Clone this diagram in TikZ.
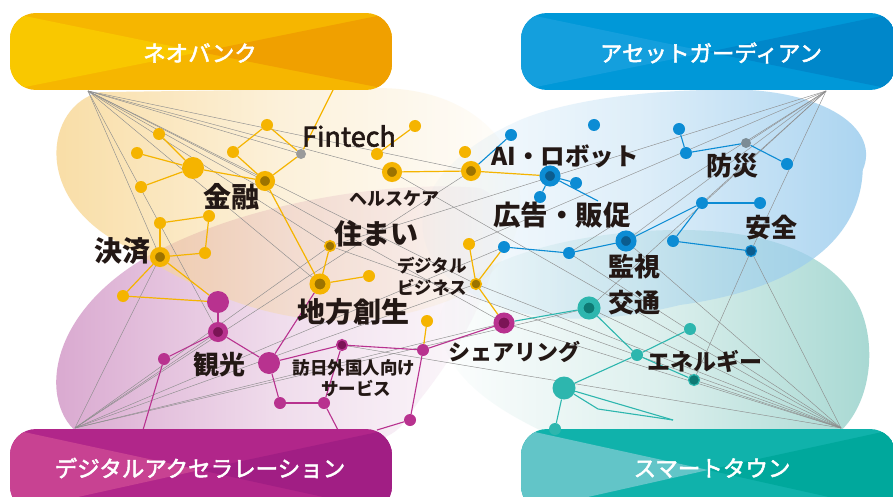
\documentclass[tikz,border=0pt]{standalone}
\usepackage{fontspec}
\newfontfamily\jp{Noto Sans CJK JP}
\newfontfamily\jpm[FakeBold=2.2]{Noto Sans CJK JP}
\usetikzlibrary{fadings}
\definecolor{Y}{HTML}{F5B400}
\definecolor{Yd}{HTML}{9C7300}
\definecolor{M}{HTML}{B8328F}
\definecolor{Md}{HTML}{7B1456}
\definecolor{B}{HTML}{0C8CD4}
\definecolor{Bd}{HTML}{0B5C8E}
\definecolor{T}{HTML}{2DB6AE}
\definecolor{Td}{HTML}{0E7A74}
\definecolor{Gn}{HTML}{9A9A9A}
\definecolor{Gb}{HTML}{7C8C96}
\definecolor{Gl}{HTML}{8E8E8E}
\definecolor{Tx}{HTML}{231815}
\definecolor{Yb}{HTML}{F8D794}
\definecolor{Pb}{HTML}{D8A5CE}
\definecolor{Bb}{HTML}{9CCDEE}
\definecolor{Tb}{HTML}{A6D8D2}
\definecolor{YL}{HTML}{F9C800}
\definecolor{YM}{HTML}{F6B600}
\definecolor{YR}{HTML}{F0A000}
\definecolor{BL}{HTML}{149FDD}
\definecolor{BM}{HTML}{0098D8}
\definecolor{BR}{HTML}{0087CA}
\definecolor{ML}{HTML}{C84292}
\definecolor{MM}{HTML}{B1268A}
\definecolor{MR}{HTML}{A11E84}
\definecolor{TL}{HTML}{62C5C8}
\definecolor{TM}{HTML}{10B2AB}
\definecolor{TR}{HTML}{00A89C}
\pgfdeclarelayer{blobs}
\pgfdeclarelayer{lines}
\pgfsetlayers{blobs,lines,main}
\tikzfading[name=fadeL, left color=transparent!0, right color=transparent!100, middle color=transparent!62]
\tikzfading[name=fadeR, left color=transparent!100, right color=transparent!0, middle color=transparent!62]
\newcommand\mybox[8]{%
  \begin{scope}
    \clip[rounded corners=26pt] (#1,#2) rectangle (#3,#4);
    \fill[#7] (#1,#2) rectangle (#3,#4);
    \fill[#6] (#1,#2) -- (#5) -- (#1,#4) -- cycle;
    \fill[#8] (#3,#2) -- (#5) -- (#3,#4) -- cycle;
  \end{scope}}
\tikzset{
  nd/.style={circle, inner sep=0pt, minimum size=12pt},
  ys/.style={nd, fill=Y},
  ybig/.style={nd, fill=Y, minimum size=22pt},
  yh/.style={nd, fill=Yd, draw=Y, line width=5pt, minimum size=15pt},
  ydk/.style={nd, fill=Yd, draw=Y, line width=1.6pt, minimum size=10.5pt},
  ms/.style={nd, fill=M},
  mbig/.style={nd, fill=M, minimum size=22pt},
  mh/.style={nd, fill=Md, draw=M, line width=5pt, minimum size=15pt},
  mdk/.style={nd, fill=Md, draw=M, line width=1.6pt, minimum size=10.5pt},
  bs/.style={nd, fill=B},
  bh/.style={nd, fill=Bd, draw=B, line width=5.5pt, minimum size=15.5pt},
  bdk/.style={nd, fill=Bd, draw=B, line width=1.2pt, minimum size=11pt},
  ts/.style={nd, fill=T},
  tbig/.style={nd, fill=T, minimum size=23pt},
  th/.style={nd, fill=Td, draw=T, line width=6pt, minimum size=17pt},
  tdk/.style={nd, fill=Td, draw=T, line width=1.2pt, minimum size=11pt},
  gn/.style={nd, fill=Gn, minimum size=10pt},
  gl/.style={draw=Gl, line width=0.45pt},
  yl/.style={draw=Y, line width=1.2pt},
  ml/.style={draw=M, line width=1.1pt},
  bl/.style={draw=B, line width=1.1pt},
  tl/.style={draw=T, line width=1.1pt},
  lab/.style={inner sep=0pt, text=Tx},
  boxtxt/.style={inner sep=0pt, text=white, font=\jpm\fontsize{22.5}{22.5}\selectfont},
}
\begin{document}
\begin{tikzpicture}[x=1pt,y=-1pt]
\useasboundingbox (0,0) rectangle (893,497);

\begin{pgfonlayer}{blobs}
  \fill[white] (0,0) rectangle (893,497);
  % pink
  \fill[Pb, path fading=fadeL] (90,440) .. controls (40,420) and (35,320) .. (150,255)
     .. controls (250,200) and (400,180) .. (480,188)
     .. controls (520,200) and (500,300) .. (420,400)
     .. controls (400,430) .. (380,440) -- cycle;
  % yellow
  \fill[Yb, opacity=0.88, path fading=fadeL] (100,92) .. controls (45,105) and (30,200) .. (127,247)
     .. controls (210,300) and (320,350) .. (450,300)
     .. controls (520,270) and (540,200) .. (500,140)
     .. controls (470,100) and (420,88) .. (380,88) -- cycle;
  % teal
  \fill[Tb, path fading=fadeR] (840,432) .. controls (875,400) and (880,330) .. (850,290)
     .. controls (820,250) and (760,230) .. (680,230)
     .. controls (560,230) and (430,270) .. (440,330)
     .. controls (450,390) and (520,420) .. (560,440) -- cycle;
  % blue
  \fill[Bb, opacity=0.88, path fading=fadeR] (750,90) .. controls (830,95) and (880,130) .. (863,170)
     .. controls (860,245) and (790,290) .. (680,305)
     .. controls (600,325) and (500,330) .. (440,270)
     .. controls (400,220) and (430,160) .. (520,120)
     .. controls (580,95) and (680,88) .. (750,90) -- cycle;
\end{pgfonlayer}

% boxes
\mybox{10}{13}{392}{90}{200,52}{YL}{YM}{YR}
\mybox{521}{13}{896}{90}{708,52}{BL}{BM}{BR}
\mybox{10}{429}{392}{512}{200,470}{ML}{MM}{MR}
\mybox{521}{429}{896}{512}{708,470}{TL}{TM}{TR}
\node[boxtxt] (tneo) at (200,53) {ネオバンク};
\node[boxtxt] (tasset) at (711,53) {アセットガーディアン};
\node[boxtxt] (tdx) at (200,468) {デジタルアクセラレーション};
\node[boxtxt] (tsmart) at (712,468) {スマートタウン};

% anchors
\coordinate (A1) at (88,91);
\coordinate (A2) at (826,91);
\coordinate (A3) at (75,428);
\coordinate (A4) at (841,428);
\coordinate (yb) at (333,90);
\coordinate (mb1) at (143,430);
\coordinate (mb2) at (338,430);
\coordinate (mb3) at (377,430);
\coordinate (tc1) at (598,409);
\coordinate (tc2) at (673,420);
\coordinate (bx) at (598,201);

% yellow nodes
\node[ys] (y1) at (159,134) {};
\node[ys] (y2) at (137,153) {};
\node[ybig] (y3) at (193,168) {};
\node[ys] (y4) at (141,187) {};
\node[ys] (y5) at (233,152) {};
\node[ys] (y6) at (267,125) {};
\node[yh] (kin) at (265,181) {};
\node[gn] (fint) at (301,154) {};
\node[ys] (y10) at (377,154) {};
\node[ys] (y11) at (415,126) {};
\node[yh] (hc) at (392,172) {};
\node[ys] (y13) at (465,152) {};
\node[yh] (y14) at (471,171) {};
\node[ydk] (sum) at (330,246) {};
\node[yh, minimum size=16pt] (chi) at (320,284) {};
\node[ys] (y15) at (369,276) {};
\node[ys] (y16) at (469,244) {};
\node[ydk] (dbz) at (476,284) {};
\node[ys] (y17) at (427,321) {};
\node[ys] (y18) at (160,223) {};
\node[ys] (y19) at (209,216) {};
\node[yh] (kes) at (160,257) {};
\node[ys] (y20) at (205,253) {};
\node[ys] (y21) at (123,296) {};

% magenta nodes
\node[mbig] (m0) at (218,302) {};
\node[mh] (kan) at (218,332) {};
\node[ms] (m1) at (164,359) {};
\node[mbig] (m2) at (269,363) {};
\node[ms] (m3) at (280,403) {};
\node[ms] (m4) at (324,403) {};
\node[mdk] (m5) at (342,345) {};
\node[ms] (m6) at (423,350) {};
\node[ms] (m7) at (410,420) {};
\node[mh, minimum size=16pt] (sha) at (504,323) {};

% blue nodes
\node[bs] (b1) at (511,135) {};
\node[bs] (b2) at (594,125) {};
\node[bh] (ai) at (550,176) {};
\node[bs] (b3) at (576,183) {};
\node[bs] (b4) at (540,197) {};
\node[bs] (b5) at (679,129) {};
\node[bs] (b6) at (686,153) {};
\node[gn, fill=Gb] (b7) at (746,143) {};
\node[bs] (b8) at (787,164) {};
\node[bs] (b9) at (702,203) {};
\node[bs] (b10) at (760,203) {};
\node[bh] (kanshi) at (626,241) {};
\node[bs] (b11) at (673,241) {};
\node[bdk] (b12) at (751,251) {};
\node[bs] (b13) at (504,247) {};
\node[bs] (b14) at (569,253) {};

% teal nodes
\node[th] (kotsu) at (589,308) {};
\node[ts] (t1) at (637,355) {};
\node[ts] (t2) at (690,329) {};
\node[tdk] (t3) at (694,380) {};
\node[tbig] (t4) at (564,388) {};
\node[ts] (t5) at (555,429) {};

% labels
\node[lab, font=\jpm\fontsize{27}{27}\selectfont] (lfint) at (349,136) {Fintech};
\node[lab, font=\jp\bfseries\fontsize{28}{28}\selectfont] (lkin) at (231,197) {金融};
\node[lab, font=\jp\bfseries\fontsize{28}{28}\selectfont] (lkes) at (122,251) {決済};
\node[lab, font=\jp\bfseries\fontsize{18}{18}\selectfont] (lhc) at (394,199) {ヘルスケア};
\node[lab, font=\jp\bfseries\fontsize{28}{28}\selectfont] (lsum) at (376,234) {住まい};
\node[lab, font=\jp\bfseries\fontsize{17.5}{17.5}\selectfont, anchor=west] (ldb1) at (397,266) {デジタル};
\node[lab, font=\jp\bfseries\fontsize{17.5}{17.5}\selectfont, anchor=west] (ldb2) at (397,287) {ビジネス};
\node[lab, font=\jp\bfseries\fontsize{28}{28}\selectfont] (lchi) at (353,312) {地方創生};
\node[lab, font=\jp\bfseries\fontsize{17.5}{17.5}\selectfont] (lhou1) at (354,368) {訪日外国人向け};
\node[lab, font=\jp\bfseries\fontsize{17.5}{17.5}\selectfont] (lhou2) at (356,388) {サービス};
\node[lab, font=\jp\bfseries\fontsize{22}{22}\selectfont] (lsha) at (514,352) {シェアリング};
\node[lab, font=\jp\bfseries\fontsize{26}{26}\selectfont] (lkan) at (219,365) {観光};
\node[lab, font=\jp\bfseries\fontsize{24.5}{24.5}\selectfont] (lai) at (565,156) {AI・ロボット};
\node[lab, font=\jp\bfseries\fontsize{27.5}{27.5}\selectfont] (lkoku) at (562,215) {広告・販促};
\node[lab, font=\jp\bfseries\fontsize{26}{26}\selectfont] (lbou) at (732,166) {防災};
\node[lab, font=\jp\bfseries\fontsize{26}{26}\selectfont] (lan) at (771,228) {安全};
\node[lab, font=\jp\bfseries\fontsize{26}{26}\selectfont] (lkanshi) at (634,267) {監視};
\node[lab, font=\jp\bfseries\fontsize{26}{26}\selectfont] (lkotsu) at (634,303) {交通};
\node[lab, font=\jp\bfseries\fontsize{23}{23}\selectfont] (lene) at (705,361) {エネルギー};

\begin{pgfonlayer}{lines}
  % gray fans
  \foreach \t in {fint,hc,y14,kin,dbz,sum,chi,kan,kes,sha}
    \draw[gl] (A1) -- (\t.center);
  \foreach \t in {sum,y16,b14,kanshi,b9,kotsu,b12,b7}
    \draw[gl] (A2) -- (\t.center);
  \foreach \t in {kes,kan,y14,sum,b13,dbz,sha,kotsu}
    \draw[gl] (A3) -- (\t.center);
  \foreach \t in {hc,dbz,sum,m5,kanshi,b14,kotsu,t3,b12,sha}
    \draw[gl] (A4) -- (\t.center);
  \draw[gl] (b12.center) -- (t3.center);

  % yellow
  \draw[yl] (y1) -- (y3);
  \draw[yl] (y2) -- (y3);
  \draw[yl] (y4) -- (y3);
  \draw[yl] (y3) -- (kin);
  \draw[yl] (y5) -- (kin);
  \draw[yl] (y5) -- (y6);
  \draw[yl] (y6) -- (fint);
  \draw[yl] (kin) -- (fint);
  \draw[yl] (fint) -- (yb);
  \draw[yl] (y10) -- (y11);
  \draw[yl] (hc) -- (y14);
  \draw[yl] (y14) -- (ai);
  \draw[yl] (kin) -- (chi);
  \draw[yl] (sum) -- (chi);
  \draw[yl] (chi) -- (y15);
  \draw[yl] (y16) -- (dbz);
  \draw[yl] (dbz) -- (b13);
  \draw[yl] (dbz) -- (sha);
  \draw[yl] (y17) -- (m6);
  \draw[yl] (y18) -- (y19);
  \draw[yl] (y19) -- (y20);
  \draw[yl] (y18) -- (kes);
  \draw[yl] (kes) -- (y20);
  \draw[yl] (kes) -- (y21);
  \draw[yl] (y21) -- (m0);
  \draw[yl] (kes) -- (m0);

  % magenta
  \draw[ml] (kan) -- (m0);
  \draw[ml] (kan) -- (m1);
  \draw[ml] (m1) -- (mb1);
  \draw[ml] (kan) -- (m2);
  \draw[ml] (m2) -- (chi);
  \draw[ml] (m2) -- (m5);
  \draw[ml] (m2) -- (m3);
  \draw[ml] (m3) -- (m4);
  \draw[ml] (m4) -- (m5);
  \draw[ml] (m4) -- (mb2);
  \draw[ml] (m5) -- (m6);
  \draw[ml] (m6) -- (m7);
  \draw[ml] (m7) -- (mb3);
  \draw[ml] (m6) -- (sha);

  % blue
  \draw[bl] (y14) -- (b1);
  \draw[bl] (ai) -- (b3);
  \draw[bl] (ai) -- (b4);
  \draw[bl] (ai) -- (bx);
  \draw[bl] (b5) -- (b6);
  \draw[bl] (b6) -- (b7);
  \draw[bl] (b7) -- (b8);
  \draw[bl] (b13) -- (b14);
  \draw[bl] (b14) -- (kanshi);
  \draw[bl] (kanshi) -- (b9);
  \draw[bl] (b9) -- (b10);
  \draw[bl] (b9) -- (b11);
  \draw[bl] (b11) -- (b12);

  % teal
  \draw[tl] (sha) -- (kotsu);
  \draw[tl] (kotsu) -- (t1);
  \draw[tl] (t1) -- (t3);
  \draw[tl] (t4) -- (t1);
  \draw[tl] (t1) -- (t2);
  \draw[tl] (t4) -- (t5);
  \draw[tl] (t4) -- (tc1) -- (tc2);
  \draw[tl] (t4) -- (tc2);
\end{pgfonlayer}
\end{tikzpicture}
\end{document}
